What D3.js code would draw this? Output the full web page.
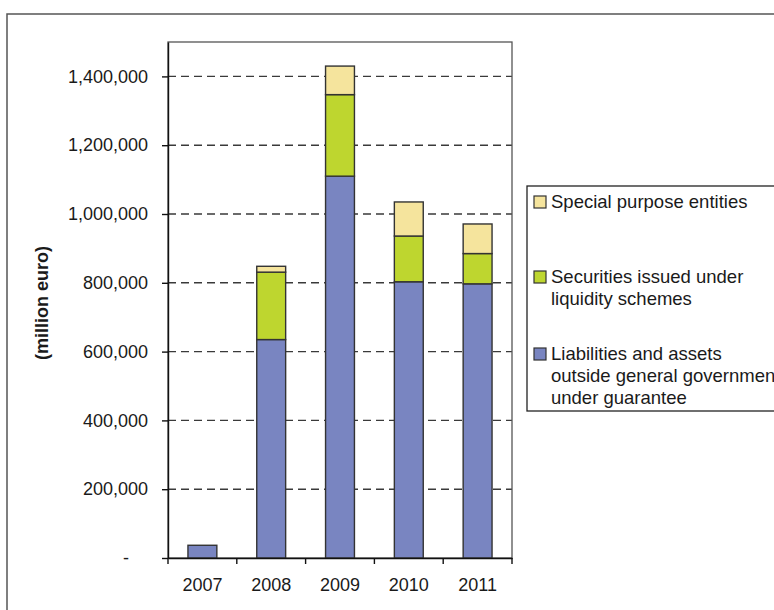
<!DOCTYPE html>
<html>
<head>
<meta charset="utf-8">
<script src="https://cdn.jsdelivr.net/npm/d3@7"></script>
<style>
  body { margin: 0; background: #fff; }
  text { font-family: "Liberation Sans", Arial, sans-serif; fill: #1a1a1a; }
</style>
</head>
<body>
<script>
// - Stacked bars: guarantees and liquidity support -

// Data
const years = ["2007", "2008", "2009", "2010", "2011"];
const liabilities = [37000, 635000, 1110000, 803000, 797000];
const securities = [0, 196000, 237000, 133000, 88000];
const spe = [0, 17000, 83000, 99000, 86000];
const yTicks = [0, 200000, 400000, 600000, 800000, 1000000, 1200000, 1400000];

// Chart size
const w = 774, h = 610;
const plotL = 168, plotR = 512, plotT = 42, plotB = 558;

const colors = ["#7985c1", "#bed62f", "#f5e49d"];

const svg = d3.select("body").append("svg")
  .attr("width", w)
  .attr("height", h);

// outer frame
svg.append("rect")
  .attr("x", 7).attr("y", 14)
  .attr("width", 800).attr("height", 640)
  .attr("fill", "none")
  .attr("stroke", "#555")
  .attr("stroke-width", 1.5);

const x = d3.scaleBand().domain(years).range([plotL, plotR]).paddingInner(0.58).paddingOuter(0.29);
const y = d3.scaleLinear().domain([0, 1500000]).range([plotB, plotT]);

// gridlines
svg.append("g")
  .selectAll("line")
  .data(yTicks.filter(d => d > 0))
  .enter()
  .append("line")
  .attr("x1", plotL).attr("x2", plotR)
  .attr("y1", d => y(d)).attr("y2", d => y(d))
  .attr("stroke", "#3a3a3a")
  .attr("stroke-width", 1.4)
  .attr("stroke-dasharray", "8,5");

// plot box
svg.append("rect")
  .attr("x", plotL).attr("y", plotT)
  .attr("width", plotR - plotL).attr("height", plotB - plotT)
  .attr("fill", "none")
  .attr("stroke", "#555")
  .attr("stroke-width", 1.3);

// stacked bars
const table = years.map((yr, i) => ({year: yr, a: liabilities[i], b: securities[i], c: spe[i]}));
const stack = d3.stack().keys(["a", "b", "c"])(table);

svg.append("g")
  .selectAll("g")
  .data(stack)
  .enter()
  .append("g")
  .attr("fill", (d, i) => colors[i])
  .selectAll("rect")
  .data(d => d.filter(p => p[1] > p[0]))
  .enter()
  .append("rect")
  .attr("x", d => x(d.data.year))
  .attr("width", x.bandwidth())
  .attr("y", d => y(d[1]))
  .attr("height", d => y(d[0]) - y(d[1]))
  .attr("stroke", "#333")
  .attr("stroke-width", 1.4);

// y axis
const yAxis = svg.append("g")
  .attr("transform", "translate(" + plotL + ",0)")
  .call(d3.axisLeft(y).tickValues(yTicks).tickSize(6).tickSizeOuter(0).tickPadding(14)
    .tickFormat(d => d === 0 ? "-" : d3.format(",")(d)));
yAxis.select(".domain").attr("stroke", "#111").attr("stroke-width", 1.4);
yAxis.selectAll(".tick line").attr("stroke", "#111").attr("stroke-width", 1.4);
yAxis.selectAll("text").style("font-size", "18px").attr("fill", "#1a1a1a")
  .attr("dx", d => d === 0 ? -19 : 0);

// x axis
const xAxis = svg.append("g")
  .attr("transform", "translate(0," + plotB + ")")
  .call(d3.axisBottom(x).tickSize(0).tickPadding(20));
xAxis.select(".domain").attr("stroke", "#111").attr("stroke-width", 1.4);
xAxis.selectAll("text").style("font-size", "18px").attr("fill", "#1a1a1a");

// category boundary ticks
svg.append("g")
  .selectAll("line")
  .data(d3.range(years.length + 1))
  .enter()
  .append("line")
  .attr("x1", i => plotL + i * x.step())
  .attr("x2", i => plotL + i * x.step())
  .attr("y1", plotB).attr("y2", plotB + 6)
  .attr("stroke", "#111")
  .attr("stroke-width", 1.4);

// y axis title
svg.append("text")
  .attr("transform", "translate(48,303) rotate(-90)")
  .attr("text-anchor", "middle")
  .style("font-size", "18px")
  .style("font-weight", "bold")
  .text("(million euro)");

// Legend
const legend = svg.append("g");
legend.append("rect")
  .attr("x", 527).attr("y", 186)
  .attr("width", 300).attr("height", 225)
  .attr("fill", "#fff")
  .attr("stroke", "#222")
  .attr("stroke-width", 1.3);

const legendItems = [
  {lines: ["Special purpose entities"], y: 202, color: colors[2]},
  {lines: ["Securities issued under", "liquidity schemes"], y: 277, color: colors[1]},
  {lines: ["Liabilities and assets", "outside general government", "under guarantee"], y: 354, color: colors[0]}
];

const item = legend.selectAll("g.item")
  .data(legendItems)
  .enter()
  .append("g")
  .attr("class", "item");

item.append("rect")
  .attr("x", 534).attr("y", d => d.y - 6)
  .attr("width", 12).attr("height", 12)
  .attr("fill", d => d.color)
  .attr("stroke", "#333")
  .attr("stroke-width", 1.2);

item.append("text")
  .style("font-size", "18.5px")
  .selectAll("tspan")
  .data(d => d.lines.map((l, i) => ({l: l, y: d.y + i * 22})))
  .enter()
  .append("tspan")
  .attr("x", 551)
  .attr("y", d => d.y + 6)
  .text(d => d.l);
</script>
</body>
</html>
